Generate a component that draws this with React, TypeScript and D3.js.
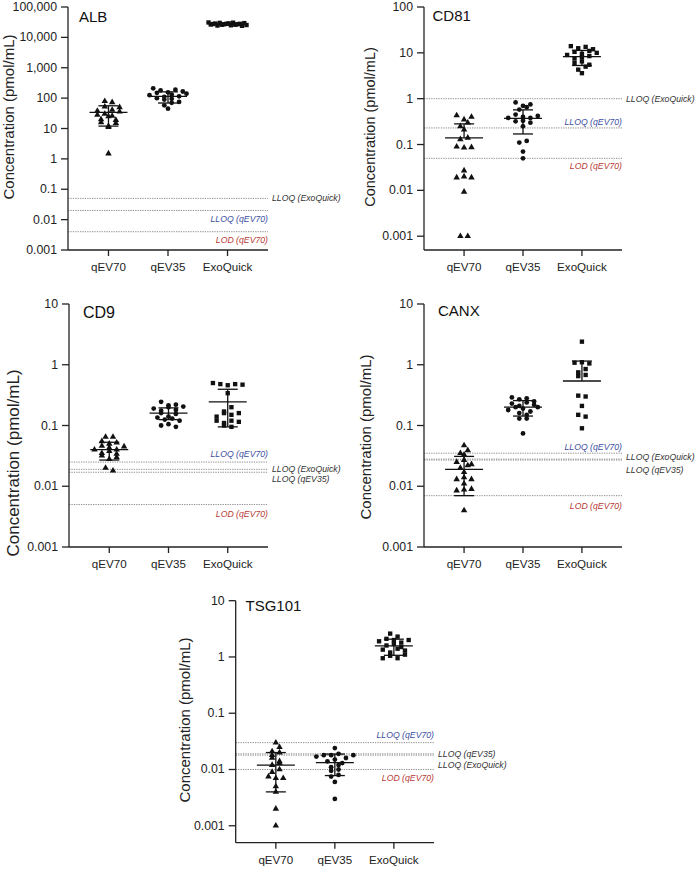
import React from 'react';
import * as d3 from 'd3';

// ---------- DATA ----------
const GROUPS = ['qEV70', 'qEV35', 'ExoQuick'];
const MARKERS = ['triangle', 'circle', 'square'];

// ALB
const albQev70 = [79, 73, 52, 50, 41, 38, 36, 30, 28, 26, 25, 20, 19, 16, 15, 12, 11, 1.5];
const albQev35 = [210, 190, 180, 165, 155, 150, 140, 130, 125, 115, 110, 100, 95, 90, 75, 70, 58, 45];
const albExo = [31000, 30500, 30000, 29500, 29000, 28500, 28000, 28000, 27500, 27000, 27000, 26500, 26000, 26000, 25500, 25000, 24500, 24000];
const albMean = [34, 115, 27500];
const albSd = [22, 46, 2000];
const albDomain = [0.001, 100000];
const albRefs = [
  { label: 'LLOQ (ExoQuick)', value: 0.05 },
  { label: 'LLOQ (qEV70)', value: 0.02 },
  { label: 'LOD (qEV70)', value: 0.004 },
];

// CD81
const cd81Qev70 = [0.43, 0.4, 0.35, 0.3, 0.25, 0.21, 0.14, 0.13, 0.09, 0.087, 0.085, 0.027, 0.02, 0.019, 0.019, 0.0093, 0.001, 0.001];
const cd81Qev35 = [0.83, 0.75, 0.7, 0.65, 0.58, 0.45, 0.42, 0.4, 0.38, 0.38, 0.33, 0.32, 0.3, 0.25, 0.12, 0.11, 0.07, 0.05];
const cd81Exo = [14, 13.5, 12.6, 12, 11, 10.5, 10, 9.5, 9, 8.5, 8, 7.5, 6.5, 6, 5.5, 5, 4.3, 3.6];
const cd81Mean = [0.14, 0.37, 8.3];
const cd81Sd = [0.142, 0.2, 3.0];
const cd81Domain = [0.0005, 100];
const cd81Refs = [
  { label: 'LLOQ (ExoQuick)', value: 1.0 },
  { label: 'LLOQ (qEV70)', value: 0.23 },
  { label: 'LOD (qEV70)', value: 0.05 },
];

// CD9
const cd9Qev70 = [0.065, 0.065, 0.055, 0.052, 0.05, 0.046, 0.045, 0.043, 0.04, 0.04, 0.038, 0.035, 0.034, 0.032, 0.03, 0.028, 0.02, 0.018];
const cd9Qev35 = [0.245, 0.22, 0.215, 0.205, 0.2, 0.19, 0.18, 0.175, 0.16, 0.155, 0.14, 0.135, 0.13, 0.125, 0.12, 0.105, 0.1, 0.095];
const cd9Exo = [0.5, 0.48, 0.48, 0.47, 0.46, 0.34, 0.2, 0.17, 0.16, 0.16, 0.15, 0.14, 0.12, 0.12, 0.115, 0.11, 0.1, 0.095];
const cd9Mean = [0.04, 0.16, 0.245];
const cd9Sd = [0.013, 0.035, 0.15];
const cd9Domain = [0.001, 10];
const cd9Refs = [
  { label: 'LLOQ (qEV70)', value: 0.025 },
  { label: 'LLOQ (ExoQuick)', value: 0.019 },
  { label: 'LLOQ (qEV35)', value: 0.017 },
  { label: 'LOD (qEV70)', value: 0.005 },
];

// CANX
const canxQev70 = [0.047, 0.039, 0.035, 0.033, 0.027, 0.025, 0.023, 0.022, 0.02, 0.017, 0.014, 0.013, 0.013, 0.011, 0.009, 0.0088, 0.0085, 0.004];
const canxQev35 = [0.29, 0.28, 0.27, 0.25, 0.24, 0.23, 0.22, 0.21, 0.2, 0.2, 0.19, 0.18, 0.17, 0.16, 0.15, 0.13, 0.13, 0.074];
const canxExo = [2.4, 1.1, 1.08, 1.05, 0.85, 0.75, 0.68, 0.65, 0.31, 0.3, 0.21, 0.15, 0.14, 0.09];
const canxMean = [0.019, 0.2, 0.54];
const canxSd = [0.012, 0.057, 0.61];
const canxDomain = [0.001, 10];
const canxRefs = [
  { label: 'LLOQ (qEV70)', value: 0.035 },
  { label: 'LLOQ (ExoQuick)', value: 0.028 },
  { label: 'LLOQ (qEV35)', value: 0.027 },
  { label: 'LOD (qEV70)', value: 0.007 },
];

// TSG101
const tsgQev70 = [0.03, 0.025, 0.021, 0.02, 0.018, 0.016, 0.014, 0.013, 0.012, 0.01, 0.009, 0.0075, 0.007, 0.007, 0.005, 0.004, 0.002, 0.001];
const tsgQev35 = [0.024, 0.019, 0.018, 0.018, 0.018, 0.017, 0.016, 0.015, 0.014, 0.013, 0.012, 0.011, 0.01, 0.0095, 0.008, 0.0075, 0.006, 0.003];
const tsgExo = [2.6, 2.3, 2.1, 2.0, 2.0, 1.9, 1.8, 1.7, 1.6, 1.5, 1.4, 1.35, 1.3, 1.2, 1.1, 1.05, 0.95, 0.95];
const tsgMean = [0.012, 0.0133, 1.57];
const tsgSd = [0.008, 0.0055, 0.5];
const tsgDomain = [0.0005, 10];
const tsgRefs = [
  { label: 'LLOQ (qEV70)', value: 0.03 },
  { label: 'LLOQ (qEV35)', value: 0.019 },
  { label: 'LLOQ (ExoQuick)', value: 0.018 },
  { label: 'LOD (qEV70)', value: 0.01 },
];

const Y_TITLE = 'Concentration (pmol/mL)';

// ---------- LAYOUT / STYLE ----------
const FONT = "'Liberation Sans', Arial, Helvetica, sans-serif";
const REF_COLORS: Record<string, string> = {
  'LLOQ (qEV70)': '#3d4fa3',
  'LOD (qEV70)': '#b83a35',
  'LLOQ (ExoQuick)': '#333',
  'LLOQ (qEV35)': '#333',
};

type RefPos = { anchor: 'start' | 'end'; dy: number };

const PANELS = [
  {
    name: 'ALB', values: [albQev70, albQev35, albExo], mean: albMean, sd: albSd, domain: albDomain, refs: albRefs,
    box: { x0: 68, x1: 268, yTop: 7, yBot: 250 },
    title: { x: 79, y: 22, size: 15 }, yTitle: { x: 8.5, y: 117, size: 15 },
    refPos: { 'LLOQ (ExoQuick)': { anchor: 'start', dy: 0 }, 'LLOQ (qEV70)': { anchor: 'end', dy: 9 }, 'LOD (qEV70)': { anchor: 'end', dy: 8 } } as Record<string, RefPos>,
  },
  {
    name: 'CD81', values: [cd81Qev70, cd81Qev35, cd81Exo], mean: cd81Mean, sd: cd81Sd, domain: cd81Domain, refs: cd81Refs,
    box: { x0: 424, x1: 622, yTop: 7, yBot: 250 },
    title: { x: 432.5, y: 21, size: 15 }, yTitle: { x: 370, y: 127, size: 14.5 },
    refPos: { 'LLOQ (ExoQuick)': { anchor: 'start', dy: 0 }, 'LLOQ (qEV70)': { anchor: 'end', dy: -5.5 }, 'LOD (qEV70)': { anchor: 'end', dy: 7.7 } } as Record<string, RefPos>,
  },
  {
    name: 'CD9', values: [cd9Qev70, cd9Qev35, cd9Exo], mean: cd9Mean, sd: cd9Sd, domain: cd9Domain, refs: cd9Refs,
    box: { x0: 69, x1: 268, yTop: 304, yBot: 547 },
    title: { x: 83, y: 318, size: 16 }, yTitle: { x: 13, y: 463, size: 17 },
    refPos: { 'LLOQ (qEV70)': { anchor: 'end', dy: -7.7 }, 'LLOQ (ExoQuick)': { anchor: 'start', dy: 0 }, 'LLOQ (qEV35)': { anchor: 'start', dy: 7 }, 'LOD (qEV70)': { anchor: 'end', dy: 9 } } as Record<string, RefPos>,
  },
  {
    name: 'CANX', values: [canxQev70, canxQev35, canxExo], mean: canxMean, sd: canxSd, domain: canxDomain, refs: canxRefs,
    box: { x0: 424, x1: 622, yTop: 304, yBot: 547 },
    title: { x: 438, y: 316, size: 15 }, yTitle: { x: 365, y: 437, size: 15 },
    refPos: { 'LLOQ (qEV70)': { anchor: 'end', dy: -6 }, 'LLOQ (ExoQuick)': { anchor: 'start', dy: -2 }, 'LLOQ (qEV35)': { anchor: 'start', dy: 10 }, 'LOD (qEV70)': { anchor: 'end', dy: 10 } } as Record<string, RefPos>,
  },
  {
    name: 'TSG101', values: [tsgQev70, tsgQev35, tsgExo], mean: tsgMean, sd: tsgSd, domain: tsgDomain, refs: tsgRefs,
    box: { x0: 235.7, x1: 434, yTop: 600.7, yBot: 842.7 },
    title: { x: 245.5, y: 611, size: 15 }, yTitle: { x: 184, y: 720, size: 15 },
    refPos: { 'LLOQ (qEV70)': { anchor: 'end', dy: -7.7 }, 'LLOQ (qEV35)': { anchor: 'start', dy: 0 }, 'LLOQ (ExoQuick)': { anchor: 'start', dy: 9.5 }, 'LOD (qEV70)': { anchor: 'end', dy: 8.4 } } as Record<string, RefPos>,
  },
];

const fmt = (v: number) => (v >= 1 ? d3.format(',')(v) : String(+v.toPrecision(1)));

// Prism-like row swarm: points close in y form a row centred on the group.
function swarm(ys: number[], step: number, rowH: number, maxHalf: number): number[] {
  const idx = ys.map((_, i) => i).sort((a, b) => ys[a] - ys[b]);
  const off = new Array(ys.length).fill(0);
  let i = 0;
  while (i < idx.length) {
    const start = ys[idx[i]];
    const row: number[] = [];
    while (i < idx.length && ys[idx[i]] - start < rowH) { row.push(idx[i]); i++; }
    // deterministic interleave so rows don't look sorted
    row.sort((a, b) => ((a * 7) % 11) - ((b * 7) % 11) || a - b);
    const n = row.length;
    let s = step;
    if (n > 1 && ((n - 1) * s) / 2 > maxHalf) s = (2 * maxHalf) / (n - 1);
    row.forEach((k, j) => { off[k] = (j - (n - 1) / 2) * s; });
  }
  return off;
}

const symbolFor: Record<string, d3.SymbolType> = {
  triangle: d3.symbolTriangle,
  circle: d3.symbolCircle,
  square: d3.symbolSquare,
};
const symbolSize: Record<string, number> = { triangle: 18, circle: 18, square: 19 };

function Panel({ p }: { p: (typeof PANELS)[number] }) {
  const { x0, x1, yTop, yBot } = p.box;
  const y = d3.scaleLog().domain(p.domain).range([yBot, yTop]);
  const x = d3.scalePoint<string>().domain(GROUPS).range([x0, x1]).padding(0.68);
  const lo = Math.ceil(Math.log10(p.domain[0]) - 1e-9);
  const hi = Math.round(Math.log10(p.domain[1]));
  const ticks = d3.range(lo, hi + 1).map((e) => Math.pow(10, e));
  const axisColor = '#222';

  return (
    <g>
      {/* reference lines */}
      {p.refs.map((r) => {
        const yy = y(r.value);
        const pos = p.refPos[r.label];
        const tx = pos.anchor === 'end' ? x1 : x1 + 4;
        return (
          <g key={r.label}>
            <line x1={x0} x2={x1} y1={yy} y2={yy} stroke="#8e8e8e" strokeWidth={1} strokeDasharray="1.3,1.1" />
            <text x={tx} y={yy + pos.dy} textAnchor={pos.anchor} dominantBaseline="central"
              fontFamily={FONT} fontStyle="italic" fontSize={8.7} fill={REF_COLORS[r.label]}>{r.label}</text>
          </g>
        );
      })}

      {/* points */}
      {p.values.map((vals, gi) => {
        const cx = x(GROUPS[gi])!;
        const ys = vals.map((v) => y(v));
        const offs = swarm(ys, 7.4, 4.4, 19);
        const sym = d3.symbol(symbolFor[MARKERS[gi]], symbolSize[MARKERS[gi]])();
        return (
          <g key={gi}>
            {vals.map((v, i) => (
              <path key={i} d={sym!} transform={`translate(${cx + offs[i]},${ys[i]})`} fill="#111" />
            ))}
          </g>
        );
      })}

      {/* mean ± SD */}
      {GROUPS.map((g, gi) => {
        const cx = x(g)!;
        const m = p.mean[gi];
        const s = p.sd[gi];
        const ym = y(m);
        const yh = y(m + s);
        const hasLo = m - s > 0;
        const yl = hasLo ? y(m - s) : ym;
        return (
          <g key={g} stroke="#111" strokeWidth={1.3}>
            <line x1={cx - 19} x2={cx + 19} y1={ym} y2={ym} />
            <line x1={cx} x2={cx} y1={yh} y2={yl} />
            <line x1={cx - 10} x2={cx + 10} y1={yh} y2={yh} />
            {hasLo && <line x1={cx - 10} x2={cx + 10} y1={yl} y2={yl} />}
          </g>
        );
      })}

      {/* y axis */}
      <line x1={x0} x2={x0} y1={yTop} y2={yBot} stroke={axisColor} strokeWidth={1.3} />
      {ticks.map((t) => (
        <g key={t}>
          <line x1={x0 - 7} x2={x0} y1={y(t)} y2={y(t)} stroke={axisColor} strokeWidth={1.3} />
          <text x={x0 - 11} y={y(t)} textAnchor="end" dominantBaseline="central" fontFamily={FONT} fontSize={12.3} fill="#222">{fmt(t)}</text>
        </g>
      ))}
      {/* x axis */}
      <line x1={x0} x2={x1} y1={yBot} y2={yBot} stroke={axisColor} strokeWidth={1.3} />
      {GROUPS.map((g) => (
        <g key={g}>
          <line x1={x(g)} x2={x(g)} y1={yBot} y2={yBot + 6} stroke={axisColor} strokeWidth={1.3} />
          <text x={x(g)} y={yBot + 21} textAnchor="middle" fontFamily={FONT} fontSize={11.6} fill="#222">{g}</text>
        </g>
      ))}

      {/* titles */}
      <text x={p.title.x} y={p.title.y} fontFamily={FONT} fontSize={p.title.size} fill="#111">{p.name}</text>
      <text transform={`translate(${p.yTitle.x},${p.yTitle.y}) rotate(-90)`} textAnchor="middle" dominantBaseline="central"
        fontFamily={FONT} fontSize={p.yTitle.size} fill="#222">{Y_TITLE}</text>
    </g>
  );
}

export default function App() {
  return (
    <svg width={700} height={869} viewBox="0 0 700 869"
      style={{ position: 'absolute', left: 0, top: 0, display: 'block', background: '#fff' }}>
      <rect x={0} y={0} width={700} height={869} fill="#fff" />
      {PANELS.map((p) => <Panel key={p.name} p={p} />)}
    </svg>
  );
}
